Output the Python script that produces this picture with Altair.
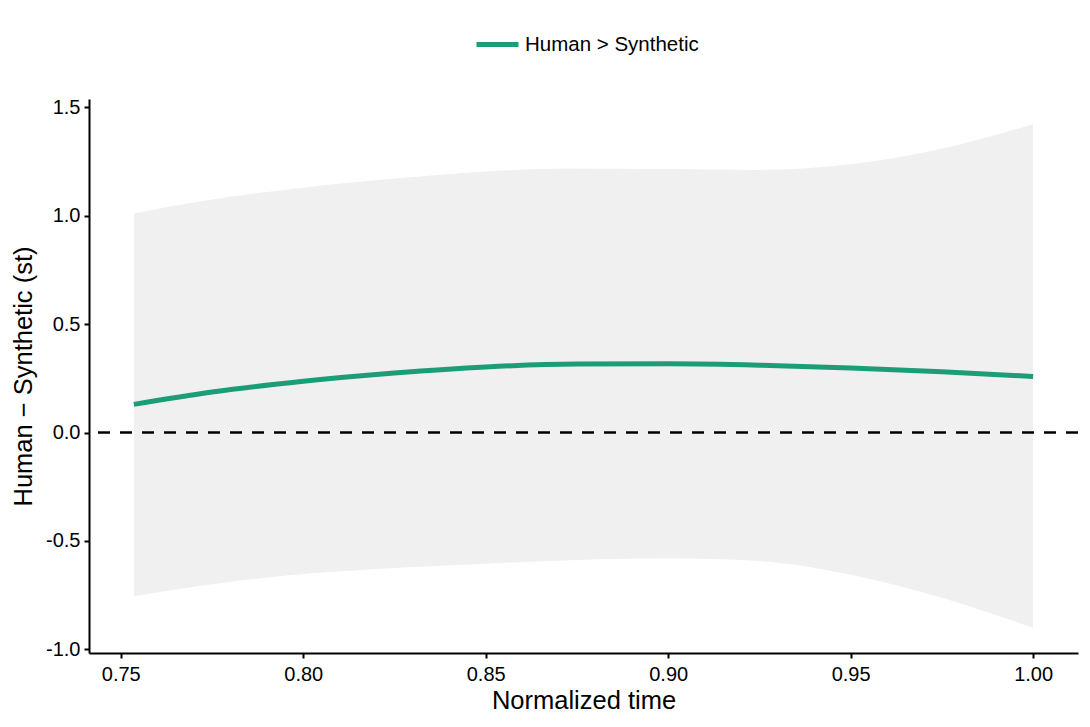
import altair as alt
import pandas as pd

# Values
time = [0.7536, 0.775, 0.80, 0.825, 0.85, 0.875, 0.90, 0.925, 0.95, 0.975, 1.00]
fit = [0.130, 0.187, 0.237, 0.275, 0.303, 0.316, 0.317, 0.311, 0.298, 0.281, 0.259]
upper = [1.011, 1.075, 1.130, 1.172, 1.205, 1.218, 1.216, 1.212, 1.238, 1.310, 1.423]
lower = [-0.755, -0.700, -0.653, -0.625, -0.605, -0.588, -0.580, -0.593, -0.656, -0.762, -0.901]
series_name = "Human > Synthetic"
x_ticks = [0.75, 0.80, 0.85, 0.90, 0.95, 1.00]
y_ticks = [-1.0, -0.5, 0.0, 0.5, 1.0, 1.5]
zero_line = [0.0]

df = pd.DataFrame({"t": time, "fit": fit, "lo": lower, "hi": upper,
                   "series": [series_name] * len(time)})
zero_df = pd.DataFrame({"y": zero_line})

FONT = "Liberation Sans"

xscale = alt.Scale(domain=[0.7413, 1.0123], nice=False, zero=False)
yscale = alt.Scale(domain=[-1.017, 1.539], nice=False, zero=False)

xaxis = alt.Axis(values=x_ticks, format=".2f", title="Normalized time",
                 grid=False, domainColor="black", domainWidth=2,
                 tickColor="black", tickWidth=2, tickSize=5,
                 labelColor="black", labelFontSize=20, labelFont=FONT,
                 labelPadding=6, titleFont=FONT, titleFontSize=25.5,
                 titleFontWeight="normal", titleColor="black", titlePadding=4)
yaxis = alt.Axis(values=y_ticks, title="Human − Synthetic (st)",
                 labelExpr="(datum.value < 0 ? '-' : '') + format(abs(datum.value), '.1f')",
                 grid=False, domainColor="black", domainWidth=2,
                 tickColor="black", tickWidth=2, tickSize=5,
                 labelColor="black", labelFontSize=20, labelFont=FONT,
                 labelPadding=4, titleFont=FONT, titleFontSize=25.5,
                 titleFontWeight="normal", titleColor="black", titlePadding=9)

base = alt.Chart(df)

band = base.mark_area(color="#f0f0f0", opacity=1, interpolate="monotone").encode(
    x=alt.X("t:Q", scale=xscale, axis=xaxis),
    y=alt.Y("lo:Q", scale=yscale, axis=yaxis),
    y2="hi:Q",
)

zero = alt.Chart(zero_df).mark_rule(color="black", strokeWidth=2.5,
                                    strokeDash=[12, 10]).encode(
    y=alt.Y("y:Q", scale=yscale),
)

line = base.mark_line(strokeWidth=5, interpolate="monotone").encode(
    x=alt.X("t:Q", scale=xscale),
    y=alt.Y("fit:Q", scale=yscale),
    color=alt.Color("series:N",
                    scale=alt.Scale(domain=[series_name], range=["#1b9e77"]),
                    legend=alt.Legend(orient="none", legendX=385, legendY=-78,
                                      title=None, symbolType="stroke",
                                      symbolSize=1764, symbolStrokeWidth=5,
                                      labelFont=FONT, labelFontSize=20.5,
                                      labelColor="black", labelOffset=4,
                                      labelLimit=0, padding=0)),
)

chart = alt.layer(band, zero, line).properties(
    width=989, height=554,
    background="white",
    autosize=alt.AutoSizeParams(type="none"),
    padding={"left": 81, "top": 91, "right": 4, "bottom": 66},
).configure_view(strokeWidth=0, stroke=None)

chart.save("out.html", embed_options={"renderer": "svg", "actions": False})
